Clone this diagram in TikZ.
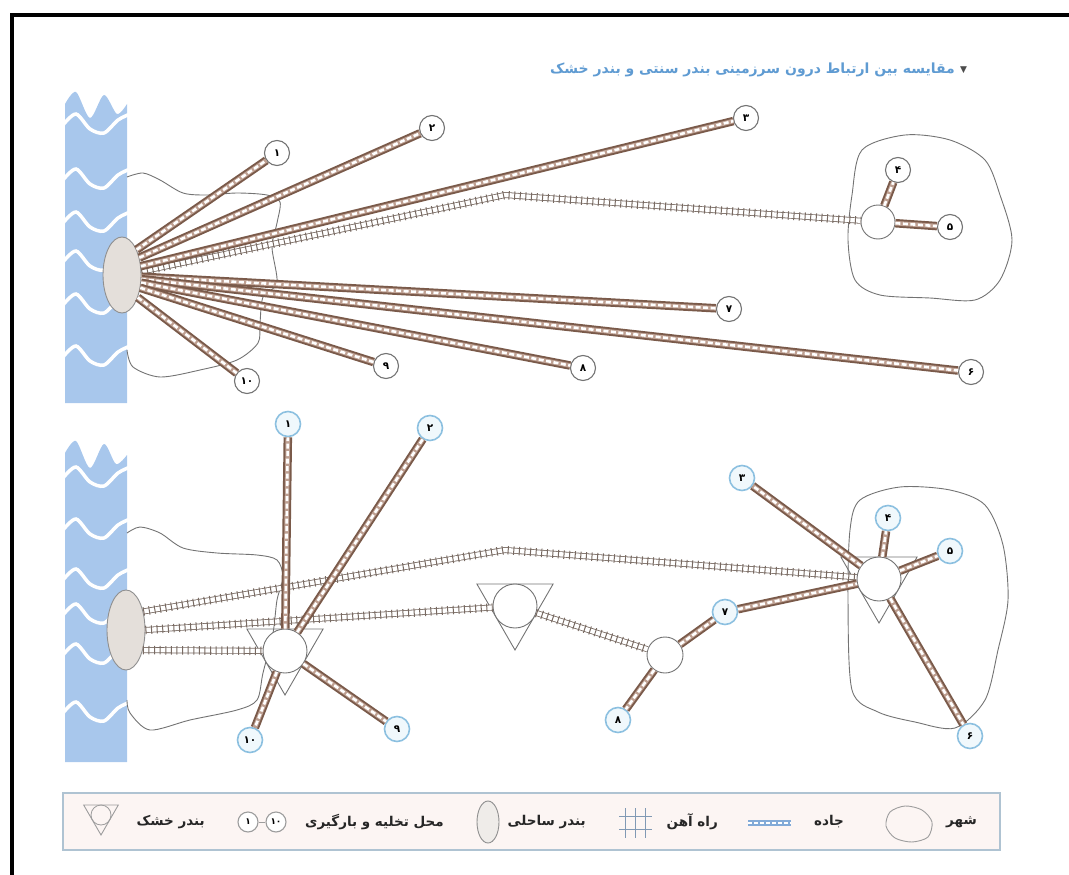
\documentclass[tikz,border=0pt]{standalone}
\usepackage{fontspec}
\usepackage{xcolor}
\usetikzlibrary{shapes.geometric,positioning}
\newfontfamily\farsi[Script=Arabic]{DejaVu Sans}
\TeXXeTstate=1

\definecolor{sea}{RGB}{168,199,236}
\definecolor{roadc}{RGB}{122,90,74}
\definecolor{roadl}{RGB}{190,160,146}
\definecolor{railc}{RGB}{120,106,98}
\definecolor{linec}{RGB}{115,115,115}
\definecolor{portc}{RGB}{228,223,218}
\definecolor{ringc}{RGB}{140,192,224}
\definecolor{ringf}{RGB}{240,248,252}
\definecolor{titlec}{RGB}{95,155,210}
\definecolor{legf}{RGB}{252,245,243}
\definecolor{legd}{RGB}{175,195,210}
\definecolor{legicon}{RGB}{130,170,215}

\tikzset{
  road/.style={draw=roadc, line width=8.5pt,
    postaction={draw=roadl, line width=4.6pt},
    postaction={draw=white, line width=2.6pt, dash pattern=on 5pt off 2.5pt}},
  rail/.style={draw=railc, line width=6pt, line join=round,
    postaction={draw=white, line width=4.4pt},
    postaction={draw=railc, line width=8.5pt, dash pattern=on 1pt off 4.6pt}},
  stop/.style={circle, draw=linec, line width=1.1pt, fill=white, minimum size=25pt,
    inner sep=0pt, font=\farsi\bfseries\fontsize{10.5}{10.5}\selectfont},
  stopb/.style={stop, draw=ringc, line width=1.6pt, fill=ringf},
  hub/.style={circle, draw=linec, line width=0.9pt, fill=white, minimum size=44pt, inner sep=0pt},
  dryport/.style={regular polygon, regular polygon sides=3, shape border rotate=180,
    draw=linec, line width=0.9pt, minimum size=88pt, inner sep=0pt},
  port/.style={ellipse, draw=linec!80, line width=0.9pt, fill=portc,
    minimum width=38pt, minimum height=76pt, inner sep=0pt},
  outline/.style={draw=linec, line width=0.9pt},
  wave/.style={draw=white, line width=3.5pt},
  legtext/.style={font=\farsi\bfseries\fontsize{13.5}{13.5}\selectfont, text=black!85, inner sep=0pt},
}

\begin{document}
\begin{tikzpicture}[x=1pt, y=-1pt]
  \useasboundingbox (0,0) rectangle (1069,875);
  % frame
  \draw[line width=4pt] (12,875) -- (12,15) -- (1069,15);
  % title
  \node[anchor=east, text=titlec, font=\farsi\bfseries\fontsize{14}{14}\selectfont, inner sep=0pt]
    (title) at (955,70) {\beginR مقایسه بین ارتباط درون سرزمینی بندر سنتی و بندر خشک\endR};
  \node[right=5pt of title, font=\farsi\fontsize{9}{9}\selectfont, text=black!70, inner sep=0pt]
    (titlemark) {▼};

  %%% traditional port
  % sea
  \fill[sea] plot[smooth] coordinates {(65,104) (76,92) (90,118) (104,95) (117,114) (127,104)}
    -- (127,403) -- (65,403) -- cycle;
  \foreach \y in {125,180,223,262,305,357}
    \draw[wave] plot[smooth] coordinates {(63,\y) (76,{\y-11}) (90,{\y+4}) (104,{\y+8}) (118,{\y-5}) (130,{\y-11})};
  % port city
  \draw[outline] plot[smooth] coordinates {(127,177) (143,173) (160,180) (183,193) (207,195) (237,193)
    (267,195) (280,202) (277,223) (272,247) (277,283) (263,297) (260,323) (258,343) (237,360)
    (200,370) (160,377) (133,367) (127,350)};
  % inland city
  \draw[outline] plot[smooth cycle] coordinates {(862,150) (905,135) (950,140) (985,160) (1000,195)
    (1012,240) (1000,280) (975,300) (930,298) (880,295) (855,280) (848,240) (852,195)};
  % nodes
  \node[port] (portT) at (122,275) {};
  \node[hub, minimum size=34pt] (hubT) at (878,222) {};
  \node[stop] (t1) at (277,153) {۱};
  \node[stop] (t2) at (432,128) {۲};
  \node[stop] (t3) at (746,118) {۳};
  \node[stop] (t4) at (898,170) {۴};
  \node[stop] (t5) at (950,227) {۵};
  \node[stop] (t6) at (971,372) {۶};
  \node[stop] (t7) at (729,309) {۷};
  \node[stop] (t8) at (583,368) {۸};
  \node[stop] (t9) at (386,366) {۹};
  \node[stop] (t10) at (247,381) {۱۰};
  \coordinate (bendT) at (505,195);
  % rail
  \draw[rail] (portT.10) -- (bendT) -- (hubT);
  % roads
  \draw[road] (portT.60) -- (t1);
  \draw[road] (portT.45) -- (t2);
  \draw[road] (portT.25) -- (t3);
  \draw[road] (portT.-5) -- (t7);
  \draw[road] (portT.-12) -- (t6);
  \draw[road] (portT.-22) -- (t8);
  \draw[road] (portT.-35) -- (t9);
  \draw[road] (portT.-55) -- (t10);
  \draw[road] (hubT) -- (t4);
  \draw[road] (hubT) -- (t5);

  %%% dry port
  % sea
  \fill[sea] plot[smooth] coordinates {(65,453) (76,441) (90,468) (104,444) (116,464) (127,455)}
    -- (127,762) -- (65,762) -- cycle;
  \foreach \y in {478,530,580,615,655,713}
    \draw[wave] plot[smooth] coordinates {(63,\y) (76,{\y-11}) (90,{\y+4}) (104,{\y+8}) (118,{\y-5}) (130,{\y-11})};
  % port city
  \draw[outline] plot[smooth] coordinates {(127,533) (140,527) (160,533) (183,548) (217,553) (257,555)
    (277,560) (283,577) (277,600) (273,633) (263,673) (257,700) (237,710) (190,720) (150,730)
    (130,713) (127,700)};
  % inland city
  \draw[outline] plot[smooth cycle] coordinates {(860,500) (900,487) (950,490) (985,505) (1003,545)
    (1008,600) (998,650) (985,700) (955,728) (915,722) (878,712) (852,690) (848,600) (850,530)};
  % nodes
  \node[port, minimum height=80pt] (portB) at (126,630) {};
  \node[dryport] (triA) at (285,651) {};
  \node[dryport] (triB) at (515,606) {};
  \node[dryport] (triC) at (879,579) {};
  \node[hub] (hubA) at (285,651) {};
  \node[hub] (hubB) at (515,606) {};
  \node[hub] (hubC) at (879,579) {};
  \node[hub, minimum size=36pt] (junc) at (665,655) {};
  \node[stopb] (b1) at (288,424) {۱};
  \node[stopb] (b2) at (430,428) {۲};
  \node[stopb] (b3) at (742,478) {۳};
  \node[stopb] (b4) at (888,518) {۴};
  \node[stopb] (b5) at (950,551) {۵};
  \node[stopb] (b6) at (970,736) {۶};
  \node[stopb] (b7) at (725,612) {۷};
  \node[stopb] (b8) at (618,720) {۸};
  \node[stopb] (b9) at (397,729) {۹};
  \node[stopb] (b10) at (250,740) {۱۰};
  \coordinate (bendB) at (505,550);
  % rails
  \draw[rail] (portB.47) -- (bendB) -- (hubC);
  \draw[rail] (portB.0) -- (hubB);
  \draw[rail] (portB.-50) -- (hubA);
  \draw[rail] (hubB) -- (junc);
  % roads
  \draw[road] (hubA) -- (b1);
  \draw[road] (hubA) -- (b2);
  \draw[road] (hubA) -- (b9);
  \draw[road] (hubA) -- (b10);
  \draw[road] (junc) -- (b7);
  \draw[road] (junc) -- (b8);
  \draw[road] (b7) -- (hubC);
  \draw[road] (hubC) -- (b3);
  \draw[road] (hubC) -- (b4);
  \draw[road] (hubC) -- (b5);
  \draw[road] (hubC) -- (b6);

  %%% legend
  \draw[draw=legd, fill=legf, line width=1.2pt] (63,793) rectangle (1000,850);
  % city
  \draw[outline, draw=linec!70] plot[smooth cycle] coordinates {(890,812) (905,806) (922,810)
    (932,822) (928,837) (912,842) (895,838) (886,826)};
  \node[legtext, anchor=east] (lcity) at (977,822) {\beginR شهر\endR};
  % road
  \draw[draw=legicon, line width=6pt, postaction={draw=white, line width=1.6pt, dash pattern=on 4pt off 2pt}]
    (748,823) -- (791,823);
  \node[legtext, anchor=east] (lroad) at (844,822) {\beginR جاده\endR};
  % rail
  \draw[legicon!60!gray, line width=0.8pt] (619,816) -- (652,816) (619,829) -- (652,829);
  \foreach \x in {625,635,645}
    \draw[legicon!60!gray, line width=0.8pt] (\x,808) -- (\x,838);
  \node[legtext, anchor=east] (lrail) at (718,822) {\beginR راه آهن\endR};
  % coastal port
  \node[port, minimum width=22pt, minimum height=42pt, fill=portc!60] (lport) at (488,822) {};
  \node[legtext, anchor=east] (lportt) at (586,822) {\beginR بندر ساحلی\endR};
  % stops
  \node[stop, minimum size=20pt, draw=linec!70, font=\farsi\bfseries\fontsize{9}{9}\selectfont] (lstop1) at (248,822) {۱};
  \node[stop, minimum size=20pt, draw=linec!70, font=\farsi\bfseries\fontsize{9}{9}\selectfont] (lstop10) at (276,822) {۱۰};
  \draw[linec!70, line width=0.8pt] (lstop1) -- (lstop10);
  \node[legtext, anchor=east] (lstopt) at (444,822) {\beginR محل تخلیه و بارگیری\endR};
  % dry port
  \node[dryport, minimum size=40pt, draw=linec!70] (ldry) at (101,815) {};
  \node[circle, draw=linec!70, line width=0.8pt, minimum size=20pt, inner sep=0pt] (ldryc) at (101,815) {};
  \node[legtext, anchor=east] (ldryt) at (205,822) {\beginR بندر خشک\endR};
\end{tikzpicture}
\end{document}
